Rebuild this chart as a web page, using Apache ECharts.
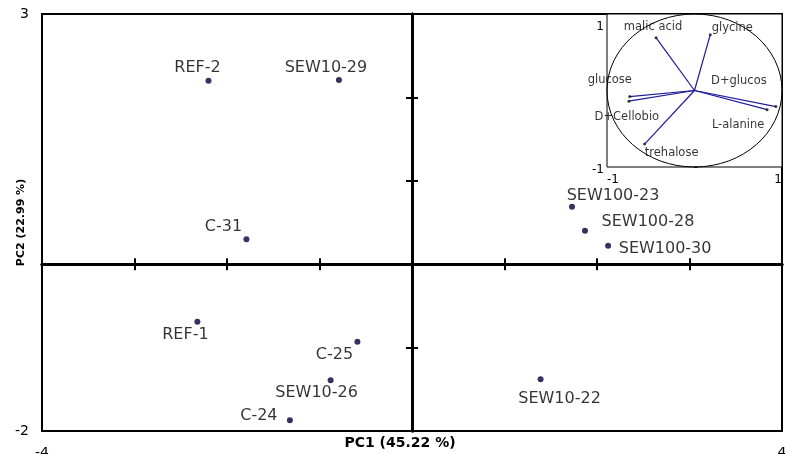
<!DOCTYPE html>
<html>
<head>
<meta charset="utf-8">
<script src="https://cdn.jsdelivr.net/npm/echarts@6/dist/echarts.min.js"></script>
<style>
  html, body { margin: 0; padding: 0; background: #fff; }
  #chart { width: 785px; height: 454px; }
</style>
</head>
<body>
<div id="chart"></div>
<script>
// 样品得分
const sampleNames = ['REF-2', 'SEW10-29', 'C-31', 'SEW100-23', 'SEW100-28', 'SEW100-30', 'REF-1', 'C-25', 'SEW10-26', 'C-24', 'SEW10-22']
const pc1Scores = [-2.20, -0.79, -1.79, 1.73, 1.87, 2.12, -2.32, -0.59, -0.88, -1.32, 1.39]
const pc2Scores = [2.20, 2.21, 0.30, 0.69, 0.40, 0.22, -0.69, -0.93, -1.39, -1.87, -1.38]

// 载荷 (右上角小图)
const varNames = ['malic acid', 'glycine', 'glucose', 'D+Cellobio', 'D+glucos', 'L-alanine', 'trehalose']
const loadX = [-0.44, 0.18, -0.74, -0.75, 0.93, 0.83, -0.57]
const loadY = [0.69, 0.73, -0.08, -0.14, -0.21, -0.25, -0.70]

// 刻度标签
const mainXTicks = [-4, 4]
const mainYTicks = [-2, 3]
const insetTicks = [-1, 1]

// 标签偏移 (像素)
const sampleLabelOffset = [[-11, -13], [-13, -12], [-23, -12], [41, -11], [63, -9], [57, 3], [-12, 13], [-23, 13], [-14, 13], [-31, -4], [19, 20]]
const varLabelOffset = [[-3, -11], [22, -7], [-20, -17], [-2, 16], [-37, -26], [-29, 15], [27, 9]]

const FONT = 'DejaVu Sans'
const chart = echarts.init(document.getElementById('chart'), null, { renderer: 'canvas' })

const pickLabel = (list) => (v) => (list.includes(v) ? String(v) : '')

const option = {
  animation: false,
  backgroundColor: '#fff',
  textStyle: { fontFamily: FONT, color: '#000' },
  grid: [
    { left: 42, top: 14, width: 740, height: 417, show: true, borderColor: '#000', borderWidth: 2, outerBoundsMode: 'none' },
    { left: 607, top: 14, width: 175, height: 153, show: true, borderColor: '#000', borderWidth: 1, backgroundColor: '#fff', outerBoundsMode: 'none', z: 5 },
  ],
  xAxis: [
    // 0: 主图底部标签
    {
      type: 'value', gridIndex: 0, min: -4, max: 4, interval: 1, position: 'bottom',
      axisLine: { show: false, onZero: false }, axisTick: { show: false }, splitLine: { show: false },
      axisLabel: { margin: 15, fontSize: 14, color: '#000', formatter: pickLabel(mainXTicks) },
      name: 'PC1 (45.22 %)', nameLocation: 'middle', nameGap: 5, nameMoveOverlap: false,
      nameTextStyle: { fontWeight: 'bold', fontSize: 14, color: '#000', padding: [0, 24, 0, 0] },
    },
    // 1: 十字轴 外刻度
    {
      type: 'value', gridIndex: 0, min: -4, max: 4, interval: 1,
      axisLine: { onZero: true, onZeroAxisIndex: 0, lineStyle: { color: '#000', width: 3 } },
      axisTick: { length: 6, lineStyle: { color: '#000', width: 2 } },
      axisLabel: { show: false }, splitLine: { show: false },
    },
    // 2: 十字轴 内刻度
    {
      type: 'value', gridIndex: 0, min: -4, max: 4, interval: 1,
      axisLine: { onZero: true, onZeroAxisIndex: 0, lineStyle: { color: '#000', width: 3 } },
      axisTick: { inside: true, length: 6, lineStyle: { color: '#000', width: 2 } },
      axisLabel: { show: false }, splitLine: { show: false },
    },
    // 3: 小图标签
    {
      type: 'value', gridIndex: 1, min: -1, max: 1, interval: 0.25, position: 'bottom',
      axisLine: { show: false, onZero: false }, axisTick: { show: false }, splitLine: { show: false },
      axisLabel: { margin: 7, fontSize: 12, color: '#000', alignMinLabel: 'left', alignMaxLabel: 'right', formatter: pickLabel(insetTicks) },
    },
    // 4: 小图十字轴
    {
      type: 'value', gridIndex: 1, min: -1, max: 1, interval: 0.25,
      axisLine: { onZero: true, onZeroAxisIndex: 3, lineStyle: { color: '#000', width: 1 } },
      axisTick: { inside: true, length: 3, lineStyle: { color: '#000', width: 1 } },
      axisLabel: { show: false }, splitLine: { show: false },
    },
  ],
  yAxis: [
    {
      type: 'value', gridIndex: 0, min: -2, max: 3, interval: 1, position: 'left',
      axisLine: { show: false, onZero: false }, axisTick: { show: false }, splitLine: { show: false },
      axisLabel: { margin: 13, fontSize: 14, color: '#000', formatter: pickLabel(mainYTicks) },
      name: 'PC2 (22.99 %)', nameLocation: 'middle', nameRotate: 90, nameGap: 15, nameMoveOverlap: false,
      nameTextStyle: { fontWeight: 'bold', fontSize: 11, color: '#000' },
    },
    {
      type: 'value', gridIndex: 0, min: -2, max: 3, interval: 1,
      axisLine: { onZero: true, onZeroAxisIndex: 0, lineStyle: { color: '#000', width: 3 } },
      axisTick: { length: 6, lineStyle: { color: '#000', width: 2 } },
      axisLabel: { show: false }, splitLine: { show: false },
    },
    {
      type: 'value', gridIndex: 0, min: -2, max: 3, interval: 1,
      axisLine: { onZero: true, onZeroAxisIndex: 0, lineStyle: { color: '#000', width: 3 } },
      axisTick: { inside: true, length: 6, lineStyle: { color: '#000', width: 2 } },
      axisLabel: { show: false }, splitLine: { show: false },
    },
    {
      type: 'value', gridIndex: 1, min: -1, max: 1, interval: 0.25, position: 'left',
      axisLine: { show: false, onZero: false }, axisTick: { show: false }, splitLine: { show: false },
      axisLabel: {
        margin: 3, fontSize: 12, color: '#000', verticalAlign: 'top',
        formatter: (v) => (v === insetTicks[1] ? '{hi|' + v + '}' : v === insetTicks[0] ? '{lo|' + v + '}' : ''),
        rich: { hi: { lineHeight: 26, fontSize: 12 }, lo: { lineHeight: 6, fontSize: 12 } },
      },
    },
    {
      type: 'value', gridIndex: 1, min: -1, max: 1, interval: 0.25,
      axisLine: { onZero: true, onZeroAxisIndex: 3, lineStyle: { color: '#000', width: 1 } },
      axisTick: { length: 3, lineStyle: { color: '#000', width: 1 } },
      axisLabel: { show: false }, splitLine: { show: false },
    },
  ],
  series: [
    {
      type: 'scatter',
      xAxisIndex: 0,
      yAxisIndex: 0,
      symbolSize: 6,
      itemStyle: { color: '#00003c' },
      label: { show: true, position: 'inside', fontSize: 16, color: '#000', formatter: '{b}' },
      data: sampleNames.map((name, i) => ({
        name: name,
        value: [pc1Scores[i], pc2Scores[i]],
        label: { offset: sampleLabelOffset[i] },
      })),
      z: 3,
    },
    // 单位圆
    {
      type: 'custom',
      xAxisIndex: 4,
      yAxisIndex: 4,
      data: [[0, 0]],
      z: 6,
      renderItem: (params, api) => {
        const c = api.coord([api.value(0), api.value(1)])
        const s = api.size([1, 1])
        return {
          type: 'ellipse',
          shape: { cx: c[0], cy: c[1], rx: s[0], ry: s[1] },
          style: { fill: 'none', stroke: '#000', lineWidth: 1 },
        }
      },
    },
    // 载荷向量
    {
      type: 'lines',
      coordinateSystem: 'cartesian2d',
      xAxisIndex: 4,
      yAxisIndex: 4,
      lineStyle: { color: '#1c1c98', width: 1.2, opacity: 1 },
      data: varNames.map((n, i) => ({ coords: [[0, 0], [loadX[i], loadY[i]]] })),
      z: 7,
    },
    {
      type: 'scatter',
      xAxisIndex: 4,
      yAxisIndex: 4,
      symbolSize: 3,
      itemStyle: { color: '#111' },
      label: { show: true, position: 'inside', fontSize: 11.5, color: '#000', formatter: '{b}' },
      data: varNames.map((name, i) => ({
        name: name,
        value: [loadX[i], loadY[i]],
        label: { offset: varLabelOffset[i] },
      })),
      z: 8,
    },
  ],
}

chart.setOption(option)
</script>
</body>
</html>
